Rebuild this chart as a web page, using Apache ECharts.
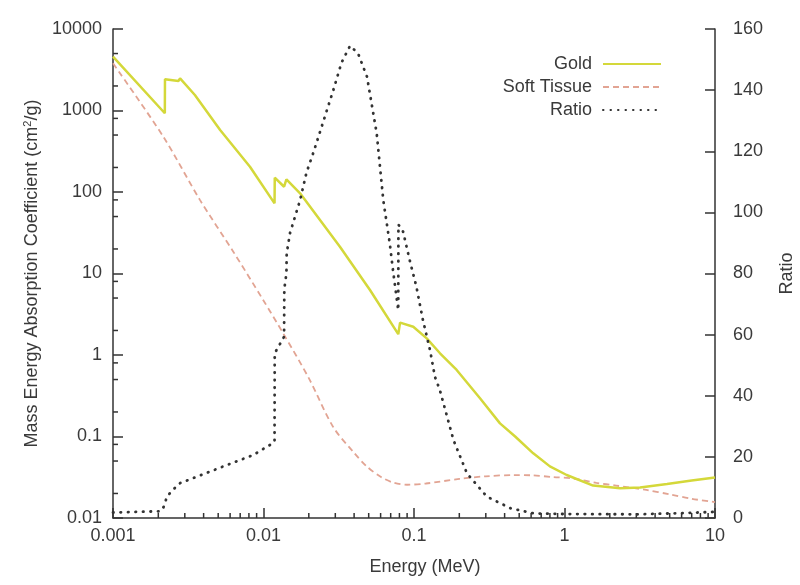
<!DOCTYPE html>
<html>
<head>
<meta charset="utf-8">
<script src="https://cdn.jsdelivr.net/npm/echarts@6/dist/echarts.min.js"></script>
<style>
html,body{margin:0;padding:0;background:#fff;}
#chart{width:800px;height:585px;}
</style>
</head>
<body>
<div id="chart"></div>
<script>
// ---- Data (Energy in MeV) ----
const goldData = [
  [0.001, 4570], [0.00221, 925], [0.002215, 2415], [0.00272, 2300], [0.00279, 2480],
  [0.0035, 1550], [0.00515, 577], [0.00813, 204], [0.01184, 72.6], [0.01188, 150],
  [0.0137, 116], [0.0142, 143], [0.0175, 96.4], [0.0322, 21.3], [0.051, 6.28],
  [0.0786, 1.8], [0.0808, 2.5], [0.0989, 2.22], [0.1215, 1.60], [0.1489, 1.05],
  [0.1921, 0.655], [0.2745, 0.294], [0.3727, 0.145], [0.47, 0.1], [0.62, 0.0622],
  [0.8, 0.043], [1.034, 0.0337], [1.55, 0.0250], [2.34, 0.0231], [3.18, 0.0237],
  [4.8, 0.0262], [7, 0.0288], [10, 0.0315]
];
const tissueData = [
  [0.001, 3790], [0.00216, 477], [0.00378, 80], [0.0063, 18.5], [0.00997, 4.7],
  [0.0135, 1.85], [0.02, 0.52], [0.0291, 0.13], [0.04, 0.063], [0.0485, 0.043],
  [0.06, 0.032], [0.0728, 0.0272], [0.09, 0.0256], [0.12, 0.0265], [0.2, 0.0302],
  [0.3, 0.0325], [0.46, 0.0336], [0.6, 0.0334], [0.84, 0.0318], [1.15, 0.0305],
  [1.63, 0.0270], [2.2, 0.0250], [3.5, 0.0221], [5, 0.0195], [7, 0.0172], [10, 0.0157]
];
const ratioData = [
  [0.001, 1.8], [0.00205, 2.2], [0.00212, 2.6], [0.00221, 4.5], [0.00227, 6.8],
  [0.00245, 8.8], [0.00279, 11.4], [0.0036, 13.5], [0.0057, 17.3], [0.00853, 20.6],
  [0.0113, 24.2], [0.01184, 25], [0.01187, 53.9], [0.0137, 59.3], [0.01375, 75],
  [0.0142, 80], [0.01426, 86.6], [0.015, 93.2], [0.0175, 104], [0.0193, 113],
  [0.0216, 120], [0.0291, 140], [0.033, 149], [0.0376, 154.5], [0.0425, 152],
  [0.0487, 144.4], [0.0565, 125.9], [0.0625, 104], [0.069, 89.9], [0.0727, 80.6],
  [0.0786, 68], [0.0788, 96], [0.0846, 93.7], [0.0936, 84.4], [0.1037, 75.7],
  [0.1146, 64.8], [0.1277, 55], [0.1377, 46.2], [0.1484, 41.9], [0.183, 25.5],
  [0.2248, 14.6], [0.3048, 7], [0.4374, 3.2], [0.6246, 1.5], [1, 1.3], [3, 1.2],
  [6, 1.6], [10, 2.0]
];
const xTickLabels = ['0.001', '0.01', '0.1', '1', '10'];          // exponents -3..1
const yTickLabels = ['0.01', '0.1', '1', '10', '100', '1000', '10000']; // exponents -2..4
const ratioTicks = [0, 20, 40, 60, 80, 100, 120, 140, 160];
const seriesNames = ['Gold', 'Soft Tissue', 'Ratio'];

const X_MIN = 0.001, X_MAX = 10, Y_MIN = 0.01, Y_MAX = 10000;

// minor tick positions (axis decoration)
const xMinorTicks = [];
for (let d = -3; d <= 0; d++) for (let m = 2; m <= 9; m++) xMinorTicks.push([m * Math.pow(10, d), Y_MIN]);
const yMinorTicks = [];
for (let d = -2; d <= 3; d++) {
  [2, 5, 8].forEach(function (m) {
    const v = m * Math.pow(10, d);
    if (v < 8000) yMinorTicks.push([X_MIN, v]);
  });
}

const AX = '#333';
const TXT = '#3a3a3a';
const FONT = 'Liberation Sans, Arial, sans-serif';
const FS = 18;

const chart = echarts.init(document.getElementById('chart'), null, {renderer: 'canvas'});
chart.setOption({
  animation: false,
  backgroundColor: '#fff',
  grid: {left: 113, right: 85, top: 29, bottom: 67, containLabel: false, outerBoundsMode: 'none'},
  legend: {
    data: seriesNames,
    orient: 'vertical',
    align: 'right',
    right: 138,
    top: 55,
    padding: 0,
    itemWidth: 58,
    itemHeight: 14,
    itemGap: 5,
    itemStyle: {opacity: 0},
    textStyle: {fontSize: FS, color: TXT, fontFamily: FONT, lineHeight: 14, padding: [0, 6, 0, 0]}
  },
  xAxis: {
    type: 'log', logBase: 10, min: X_MIN, max: X_MAX, interval: 1,
    name: 'Energy (MeV)', nameLocation: 'middle', nameGap: 40,
    nameTextStyle: {fontSize: FS, color: TXT, fontFamily: FONT, padding: [0, 0, 0, 22]},
    axisLine: {show: true, lineStyle: {color: AX, width: 1.5}},
    axisTick: {show: true, inside: true, length: 10, lineStyle: {color: AX, width: 1.5}},
    axisLabel: {
      fontSize: FS, color: TXT, fontFamily: FONT, margin: 9,
      formatter: function (v) { return xTickLabels[Math.round(Math.log10(v)) + 3]; }
    },
    splitLine: {show: false}
  },
  yAxis: [{
    type: 'log', logBase: 10, min: Y_MIN, max: Y_MAX, interval: 1,
    name: 'Mass Energy Absorption Coefficient (cm{sup|2}/g)',
    nameLocation: 'middle', nameGap: 70, nameRotate: 90,
    nameTextStyle: {fontSize: FS, color: TXT, fontFamily: FONT,
      rich: {sup: {fontSize: 11, color: TXT, fontFamily: FONT, verticalAlign: 'top', padding: [0, 0, 9, 0]}}},
    axisLine: {show: true, lineStyle: {color: AX, width: 1.5}},
    axisTick: {show: true, inside: true, length: 10, lineStyle: {color: AX, width: 1.5}},
    axisLabel: {
      fontSize: FS, color: TXT, fontFamily: FONT, margin: 11,
      formatter: function (v) { return yTickLabels[Math.round(Math.log10(v)) + 2]; }
    },
    splitLine: {show: false}
  }, {
    type: 'value', min: ratioTicks[0], max: ratioTicks[ratioTicks.length - 1], interval: 20,
    position: 'right',
    name: 'Ratio', nameLocation: 'middle', nameGap: 63, nameRotate: 90,
    nameTextStyle: {fontSize: FS, color: TXT, fontFamily: FONT},
    axisLine: {show: true, lineStyle: {color: AX, width: 1.5}},
    axisTick: {show: true, inside: true, length: 10, lineStyle: {color: AX, width: 1.5}},
    axisLabel: {fontSize: FS, color: TXT, fontFamily: FONT, margin: 18},
    splitLine: {show: false}
  }],
  series: [
    {
      name: seriesNames[0], type: 'line', data: goldData, yAxisIndex: 0,
      symbol: 'none', smooth: false, z: 3,
      lineStyle: {color: '#d4d83a', width: 2.5}, itemStyle: {color: '#d4d83a'}
    },
    {
      name: seriesNames[1], type: 'line', data: tissueData, yAxisIndex: 0,
      symbol: 'none', smooth: 0.3, z: 2,
      lineStyle: {color: '#e2a493', width: 1.8, type: [6, 4]}, itemStyle: {color: '#e2a493'}
    },
    {
      name: seriesNames[2], type: 'line', data: ratioData, yAxisIndex: 1,
      symbol: 'none', smooth: false, z: 4,
      lineStyle: {color: '#333', width: 2.8, type: [0.5, 7], cap: 'round'}, itemStyle: {color: '#333'}
    },
    {
      type: 'custom', silent: true, yAxisIndex: 0, data: xMinorTicks, clip: false, z: 5,
      renderItem: function (params, api) {
        const p = api.coord([api.value(0), api.value(1)]);
        return {type: 'line', shape: {x1: p[0], y1: p[1], x2: p[0], y2: p[1] - 5},
          style: {stroke: AX, lineWidth: 1.5}};
      }
    },
    {
      type: 'custom', silent: true, yAxisIndex: 0, data: yMinorTicks, clip: false, z: 5,
      renderItem: function (params, api) {
        const p = api.coord([api.value(0), api.value(1)]);
        return {type: 'line', shape: {x1: p[0], y1: p[1], x2: p[0] + 5, y2: p[1]},
          style: {stroke: AX, lineWidth: 1.5}};
      }
    }
  ]
});
</script>
</body>
</html>
